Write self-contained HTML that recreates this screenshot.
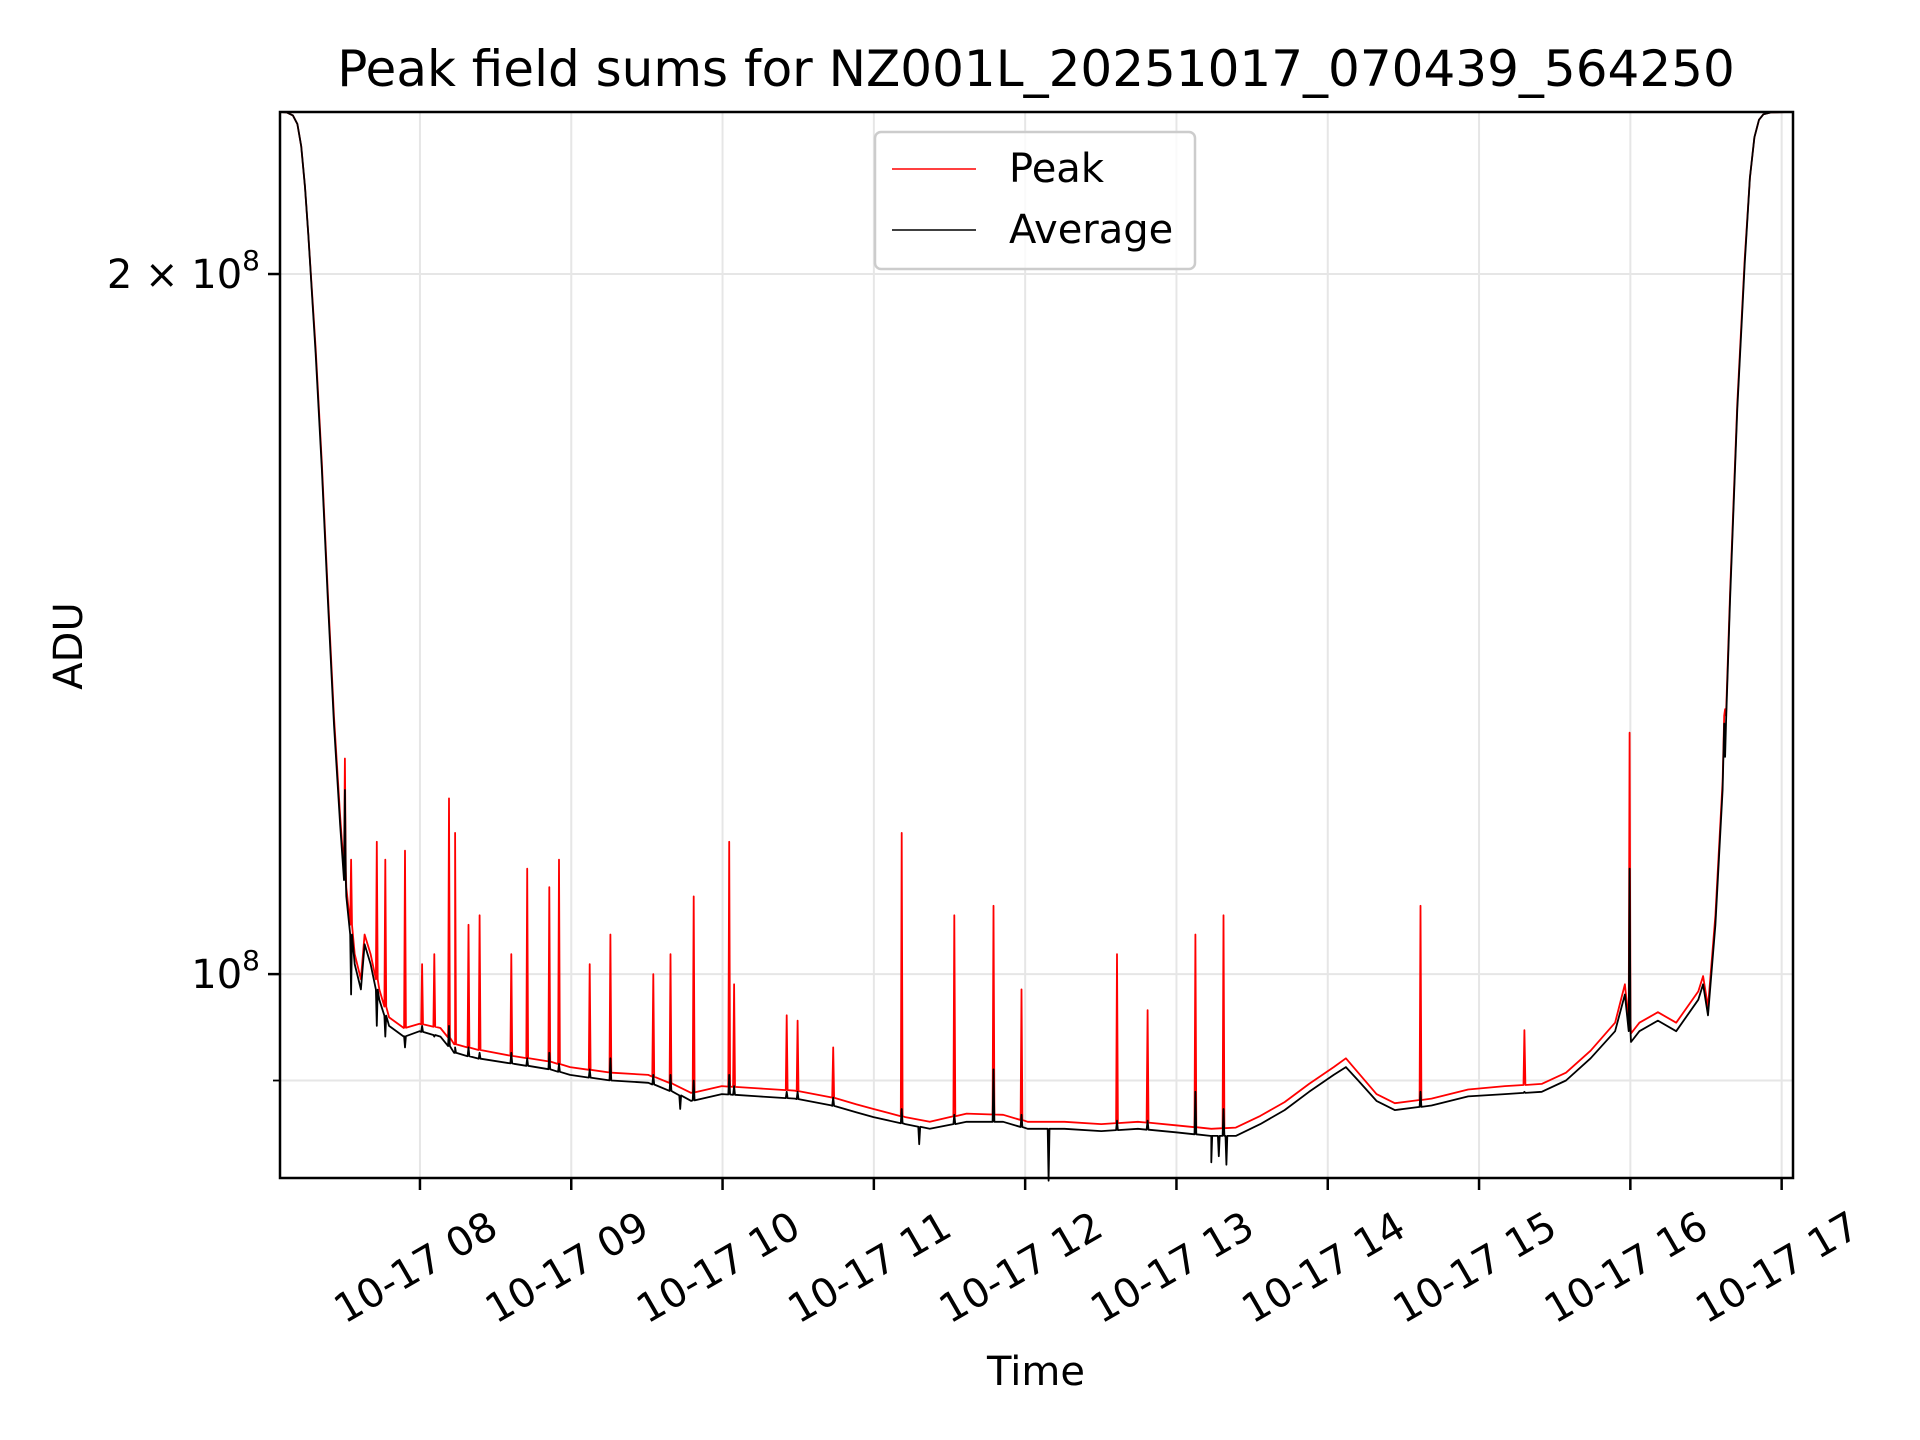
<!DOCTYPE html>
<html><head><meta charset="utf-8"><style>
html,body{margin:0;padding:0;background:#fff;}
svg{display:block;font-family:"DejaVu Sans","Liberation Sans",sans-serif;}
</style></head><body>
<svg id="chart" width="1920" height="1440" viewBox="0 0 1920 1440">
<rect width="1920" height="1440" fill="#fff"/>
<text x="1036" y="86" font-size="50" text-anchor="middle">Peak field sums for NZ001L_20251017_070439_564250</text>
<g id="grid"></g>
<g id="series"></g>
<rect x="280" y="112" width="1513" height="1066" fill="none" stroke="#000" stroke-width="2.5"/>
<g id="axes"></g>
<text x="1036" y="1385" font-size="40" text-anchor="middle">Time</text>
<text x="0" y="0" font-size="40" text-anchor="middle" transform="translate(82,646) rotate(-90)">ADU</text>
<g>
<rect x="875" y="132" width="320" height="137" rx="6" fill="#fff" fill-opacity="0.8" stroke="#ccc" stroke-width="2.5"/>
<line x1="892" y1="169" x2="976" y2="169" stroke="#ff0000" stroke-width="1.5"/>
<text x="1009" y="182" font-size="40">Peak</text>
<line x1="892" y1="230" x2="976" y2="230" stroke="#000" stroke-width="1.5"/>
<text x="1009" y="243" font-size="40">Average</text>
</g>
</svg>
<script>
// values in units of 1e8 ADU, time in decimal hours (2025-10-17)
const times = [7.076,7.12,7.16,7.19,7.215,7.24,7.262,7.31,7.351,7.391,7.432,7.472,7.513,7.569,7.61,7.634,7.674,7.731,7.796,7.893,7.998,8.135,8.232,8.378,8.621,8.863,8.992,9.267,9.51,9.672,9.793,9.995,10.238,10.48,10.723,10.885,10.998,11.208,11.37,11.613,11.855,12.017,12.26,12.503,12.745,12.996,13.23,13.392,13.554,13.715,13.877,14.039,14.12,14.201,14.322,14.443,14.686,14.928,15.171,15.414,15.575,15.737,15.899,15.964,16.004,16.06,16.182,16.303,16.449,16.481,16.513,16.562,16.61,16.659,16.707,16.756,16.79,16.82,16.85,16.88,16.93,17.071];
const avgValues = [2.348,2.347,2.34,2.32,2.27,2.18,2.08,1.85,1.65,1.45,1.28,1.16,1.08,1.01,0.985,1.03,1.01,0.975,0.95,0.94,0.945,0.94,0.925,0.92,0.915,0.91,0.905,0.9,0.898,0.89,0.882,0.888,0.886,0.884,0.878,0.872,0.868,0.862,0.858,0.864,0.864,0.858,0.858,0.856,0.858,0.855,0.852,0.852,0.862,0.874,0.89,0.905,0.912,0.9,0.882,0.874,0.878,0.886,0.888,0.89,0.9,0.92,0.945,0.98,0.935,0.945,0.955,0.945,0.975,0.99,0.96,1.05,1.2,1.45,1.75,2.02,2.2,2.29,2.33,2.343,2.347,2.348];
const peakValues = [2.348,2.347,2.34,2.32,2.27,2.18,2.08,1.86,1.66,1.46,1.29,1.17,1.09,1.02,0.995,1.04,1.02,0.985,0.958,0.948,0.952,0.948,0.933,0.928,0.922,0.917,0.912,0.907,0.905,0.897,0.889,0.895,0.893,0.891,0.885,0.879,0.875,0.868,0.864,0.871,0.87,0.864,0.864,0.862,0.864,0.861,0.858,0.859,0.869,0.881,0.897,0.912,0.92,0.907,0.888,0.88,0.884,0.892,0.895,0.897,0.907,0.927,0.953,0.99,0.943,0.953,0.963,0.953,0.983,0.998,0.968,1.06,1.21,1.46,1.76,2.03,2.2,2.29,2.33,2.343,2.347,2.348];
const spikeTimes = [7.504,7.545,7.715,7.771,7.901,8.014,8.095,8.192,8.232,8.321,8.394,8.604,8.709,8.855,8.919,9.122,9.259,9.542,9.656,9.809,10.044,10.076,10.424,10.496,10.731,11.184,11.532,11.791,11.976,12.607,12.809,13.125,13.311,14.613,15.3,15.995,16.626];
const spikeValues = [1.238,1.12,1.14,1.12,1.13,1.01,1.02,1.19,1.15,1.05,1.06,1.02,1.11,1.09,1.12,1.01,1.04,1.0,1.02,1.08,1.14,0.99,0.96,0.955,0.93,1.15,1.06,1.07,0.985,1.02,0.965,1.04,1.06,1.07,0.946,1.27,1.3];
const avgSpikeValues = [1.2,0.98,0.95,0.94,0.93,0.95,0.94,0.95,0.93,0.93,0.925,0.925,0.92,0.925,0.915,0.91,0.92,0.905,0.905,0.9,0.905,0.895,0.89,0.89,0.885,0.875,0.87,0.91,0.87,0.865,0.865,0.89,0.875,0.89,0.89,1.11,1.24];
const dipTimes = [12.155,13.23,13.28,13.33,11.3,9.72];
const dipValues = [0.815,0.83,0.835,0.828,0.845,0.875];
const xTickHours = [8,9,10,11,12,13,14,15,16,17];
const xTickLabels = ["10-17 08","10-17 09","10-17 10","10-17 11","10-17 12","10-17 13","10-17 14","10-17 15","10-17 16","10-17 17"];
const yMajorTicks = [1,2];
const yMajorLabels = ["10^8","2 × 10^8"];
const yMinorTicks = [0.9];

const NS="http://www.w3.org/2000/svg";
const X0=280,X1=1793,Y0=112,Y1=1178,T0=7.075,T1=17.075;
const LV0=Math.log10(0.8172),LV1=Math.log10(2.348);
function xs(t){return X0+(t-T0)/(T1-T0)*(X1-X0);}
function ys(v){return Y1-(Math.log10(v)-LV0)/(LV1-LV0)*(Y1-Y0);}
function mk(tag,attrs,parent){const e=document.createElementNS(NS,tag);for(const k in attrs)e.setAttribute(k,attrs[k]);parent.appendChild(e);return e;}
const grid=document.getElementById('grid'),axes=document.getElementById('axes'),series=document.getElementById('series');

xTickHours.forEach((h,i)=>{
  const x=xs(h);
  const g=mk('line',{x1:x,y1:Y0,x2:x,y2:Y1,stroke:'#e6e6e6','stroke-width':2},grid);
  
  
  const t=mk('line',{x1:x,y1:Y1,x2:x,y2:Y1+12,stroke:'#000','stroke-width':2.5},axes);
  
  
  const lb=mk('text',{x:0,y:0,'font-size':40,'text-anchor':'middle','dominant-baseline':'central',transform:`translate(${x-4},${1268}) rotate(-30)`},axes);
  lb.textContent=xTickLabels[i];
  
  
});
yMajorTicks.forEach((v,i)=>{
  const y=ys(v);
  const g=mk('line',{x1:X0,y1:y,x2:X1,y2:y,stroke:'#e6e6e6','stroke-width':2},grid);
  
  
  const t=mk('line',{x1:X0-12,y1:y,x2:X0,y2:y,stroke:'#000','stroke-width':2.5},axes);
  
  
  const parts=yMajorLabels[i].split('^');
  const lb=mk('text',{x:X0-20,y:y+14,'font-size':40,'text-anchor':'end'},axes);
  
  
  const s1=mk('tspan',{},lb);s1.textContent=parts[0];
  const s2=mk('tspan',{'font-size':28,dy:-18},lb);s2.textContent=parts[1];
});
yMinorTicks.forEach(v=>{
  const y=ys(v);
  const g=mk('line',{x1:X0,y1:y,x2:X1,y2:y,stroke:'#e6e6e6','stroke-width':2},grid);
  
  
  const t=mk('line',{x1:X0-7,y1:y,x2:X0,y2:y,stroke:'#000','stroke-width':1.8},axes);
  
  
});

function interp(tArr,vArr,t){
  for(let i=0;i<tArr.length-1;i++){if(t>=tArr[i]&&t<=tArr[i+1]){const f=(t-tArr[i])/(tArr[i+1]-tArr[i]);return vArr[i]+f*(vArr[i+1]-vArr[i]);}}
  return vArr[vArr.length-1];
}
function build(baseV,extraT,extraV){
  const pts=times.map((t,i)=>({t,v:baseV[i]}));
  const dt=0.006;
  extraT.forEach((t,i)=>{
    const b=interp(times,baseV,t);
    pts.push({t:t-dt,v:b},{t:t,v:extraV[i]},{t:t+dt,v:b});
  });
  pts.sort((a,b)=>a.t-b.t);
  return pts.map(p=>`${xs(p.t).toFixed(1)},${ys(p.v).toFixed(1)}`).join(' ');
}
const peakLine=mk('polyline',{points:build(peakValues,spikeTimes,spikeValues),fill:'none',stroke:'#ff0000','stroke-width':1.8,'stroke-linejoin':'round'},series);


const avgLine=mk('polyline',{points:build(avgValues,spikeTimes.concat(dipTimes),avgSpikeValues.concat(dipValues)),fill:'none',stroke:'#000','stroke-width':1.8,'stroke-linejoin':'round'},series);


</script>
</body></html>
